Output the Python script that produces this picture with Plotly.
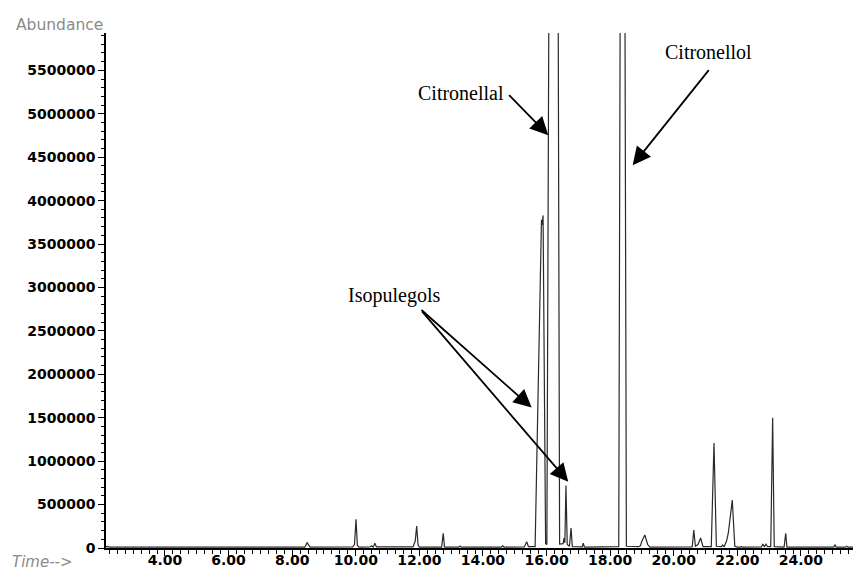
import plotly.graph_objects as go

# Chromatogram trace vertices (retention time in min, abundance)
trace_time = [
    2.145, 2.18, 2.25, 8.40, 8.47, 8.56, 9.90, 9.96, 10.007, 10.05, 10.10,
    10.45, 10.50, 10.55, 10.60, 10.65, 11.80, 11.87, 11.915, 11.96, 12.00,
    12.70, 12.75, 12.79, 13.24, 13.28, 13.32, 14.23, 14.27, 14.31, 14.58,
    14.62, 14.66, 15.30, 15.375, 15.43, 15.64, 15.84, 15.865, 15.89, 15.97,
    16.01, 16.08, 16.36, 16.41, 16.52, 16.55, 16.575, 16.61, 16.65, 16.72,
    16.77, 16.81, 17.12, 17.155, 17.19, 17.80, 17.84, 17.88, 18.27, 18.32,
    18.46, 18.51, 18.90, 18.95, 19.00, 19.09, 19.18, 19.25, 20.58, 20.63,
    20.68, 20.76, 20.846, 20.92, 21.18, 21.265, 21.34, 21.50, 21.54, 21.58,
    21.66, 21.715, 21.84, 21.92, 22.00, 22.10, 22.135, 22.17, 22.76, 22.80,
    22.85, 22.90, 22.95, 23.05, 23.11, 23.16, 23.47, 23.52, 23.56, 25.03,
    25.07, 25.11, 25.40, 25.44, 25.48, 26.14,
]
trace_abundance = [
    12000, 18000, 10000, 10000, 60000, 10000, 12000, 40000, 330000, 30000, 10000,
    12000, 25000, 10000, 54000, 12000, 12000, 80000, 253000, 30000, 10000,
    10000, 170000, 10000, 10000, 23000, 10000, 10000, 15000, 10000, 10000,
    27000, 10000, 12000, 73000, 15000, 15000, 3780000, 3720000, 3830000, 50000,
    40000, 7000000, 7000000, 45000, 50000, 115000, 60000, 720000, 40000, 20000,
    230000, 15000, 12000, 55000, 10000, 10000, 18000, 10000, 15000, 7000000,
    7000000, 20000, 15000, 25000, 80000, 150000, 40000, 10000, 12000, 207000,
    20000, 40000, 115000, 15000, 15000, 1210000, 20000, 15000, 35000, 12000,
    80000, 170000, 552000, 20000, 10000, 10000, 15000, 10000, 12000, 45000,
    15000, 45000, 15000, 15000, 1500000, 15000, 10000, 170000, 10000, 10000,
    35000, 10000, 10000, 20000, 10000, 10000,
]

x_range = [2.145, 26.14]
y_range = [0, 5930000]

PLOT_W = 763
PLOT_H = 515

fig = go.Figure()
fig.add_trace(go.Scatter(
    x=trace_time, y=trace_abundance, mode="lines",
    line=dict(color="#2a2a2a", width=1.2), hoverinfo="skip", showlegend=False,
))

tick_font = dict(family="DejaVu Sans", size=14, color="black")

fig.update_xaxes(
    range=x_range, showline=True, linecolor="black", linewidth=1.5,
    showgrid=False, zeroline=False, ticks="outside", ticklen=6, tickwidth=1,
    tickcolor="black", tick0=0, dtick=2, tickformat=".2f",
    tickfont=tick_font, automargin=False, ticklabelstandoff=-8,
    tickprefix="<b>", ticksuffix="</b>",
    minor=dict(dtick=0.25, tick0=0, ticks="outside", ticklen=4, tickcolor="black", showgrid=False),
)
fig.update_yaxes(
    range=y_range, showline=True, linecolor="black", linewidth=1.5,
    showgrid=False, zeroline=False, ticks="outside", ticklen=6, tickwidth=1,
    tickcolor="black", tick0=0, dtick=500000, tickformat="d",
    tickfont=tick_font, automargin=False,
    tickprefix="<b>", ticksuffix="</b>",
    minor=dict(dtick=100000, tick0=0, ticks="outside", ticklen=3, tickcolor="black", showgrid=False),
)

serif = dict(family="Liberation Serif", size=20, color="black")
arrow_style = dict(showarrow=True, arrowhead=2, arrowsize=2.0, arrowwidth=1.8,
                   arrowcolor="black", text="", xref="x", yref="y",
                   axref="x", ayref="y")

annotations = [
    dict(text="Citronellal", x=13.308, y=5236000, xref="x", yref="y",
         showarrow=False, font=serif),
    dict(text="Citronellol", x=21.107, y=5708000, xref="x", yref="y",
         showarrow=False, font=serif),
    dict(text="Isopulegols", x=11.2, y=2911000, xref="x", yref="y",
         showarrow=False, font=serif),
    dict(x=16.054, y=4753000, ax=14.777, ay=5233000, **arrow_style),
    dict(x=18.708, y=4407000, ax=21.139, ay=5520000, **arrow_style),
    dict(x=15.532, y=1617000, ax=12.019, ay=2756000, **arrow_style),
    dict(x=16.683, y=763000, ax=12.05, ay=2739000, **arrow_style),
    dict(text="Abundance", x=-92 / PLOT_W, y=1 + 8 / PLOT_H, xref="paper", yref="paper",
         xanchor="left", yanchor="middle", showarrow=False,
         font=dict(family="DejaVu Sans", size=15.5, color="#8a8a8a")),
    dict(text="<i>Time--></i>", x=-96 / PLOT_W, y=-14 / PLOT_H, xref="paper", yref="paper",
         xanchor="left", yanchor="middle", showarrow=False,
         font=dict(family="DejaVu Sans", size=15, color="#8a8a8a")),
]
fig.update_layout(
    annotations=annotations,
    width=861, height=571,
    margin=dict(l=98, r=0, t=25, b=31, autoexpand=False),
    paper_bgcolor="white", plot_bgcolor="white",
    font=dict(family="DejaVu Sans"),
)

fig.write_html("out.html")
